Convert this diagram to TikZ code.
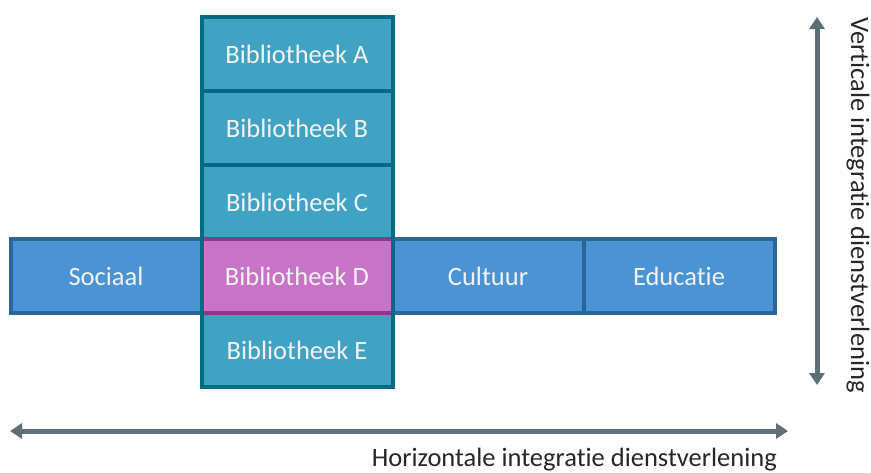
\documentclass[tikz,border=0pt]{standalone}
\usepackage{fontspec}
\setmainfont{Carlito}[Ligatures={NoCommon}]
\usetikzlibrary{positioning,arrows.meta}
\definecolor{tealfill}{HTML}{41A3C3}
\definecolor{tealline}{HTML}{006C84}
\definecolor{bluefill}{HTML}{4A93D4}
\definecolor{blueline}{HTML}{2A6699}
\definecolor{pinkfill}{HTML}{C873C8}
\definecolor{pinkline}{HTML}{8A3A8A}
\definecolor{axisgray}{HTML}{5F6F79}
\definecolor{labelgray}{HTML}{262626}

\begin{document}
\begin{tikzpicture}[x=1pt,y=-1pt,
  cell/.style={minimum width=191pt,minimum height=74pt,outer sep=0pt,
    line width=4pt,text=white!95!black,font=\fontsize{26.5}{30}\selectfont},
  lib/.style={cell,fill=tealfill,draw=tealline},
  dienst/.style={cell,fill=bluefill,draw=blueline},
  axis/.style={line width=5pt,draw=axisgray,{Triangle[width=15pt,length=12pt]}-{Triangle[width=15pt,length=12pt]}},
  axislabel/.style={text=labelgray,font=\fontsize{26.5}{30}\selectfont,inner sep=0pt}]
\useasboundingbox (0,0) rectangle (871,472);

% vertical column
\node[lib](BIBA) at (297,54)           {Bibliotheek A};
\node[lib](BIBB) [below=0pt of BIBA]   {Bibliotheek B};
\node[lib](BIBC) [below=0pt of BIBB]   {Bibliotheek C};
\node[lib,fill=none,draw=none](BIBD) [below=0pt of BIBC] {};
\node[lib](BIBE) [below=0pt of BIBD]   {Bibliotheek E};

% horizontal row
\node[dienst](SOC) [left=0pt of BIBD]  {Sociaal};
\node[dienst](CUL) [right=0pt of BIBD] {Cultuur};
\node[dienst](EDU) [right=0pt of CUL]  {Educatie};
\node[lib,fill=pinkfill] at (BIBD)     {Bibliotheek D};
\draw[line width=4pt,pinkline] ([xshift=2pt]BIBD.north west) -- ([xshift=-2pt]BIBD.north east);
\draw[line width=4pt,pinkline] ([xshift=2pt]BIBD.south west) -- ([xshift=-2pt]BIBD.south east);

% axes
\coordinate(VTOP) at (817,17);
\coordinate(VBOT) at (817,385);
\coordinate(HLEFT) at (10,431);
\coordinate(HRIGHT) at (788,431);
\draw[axis] (VTOP) -- (VBOT);
\draw[axis] (HLEFT) -- (HRIGHT);
\node[axislabel,rotate=-90](VLAB) at (858,205) {Verticale integratie dienstverlening};
\node[axislabel,anchor=east](HLAB) at (777,460) {Horizontale integratie dienstverlening};
\end{tikzpicture}
\end{document}
